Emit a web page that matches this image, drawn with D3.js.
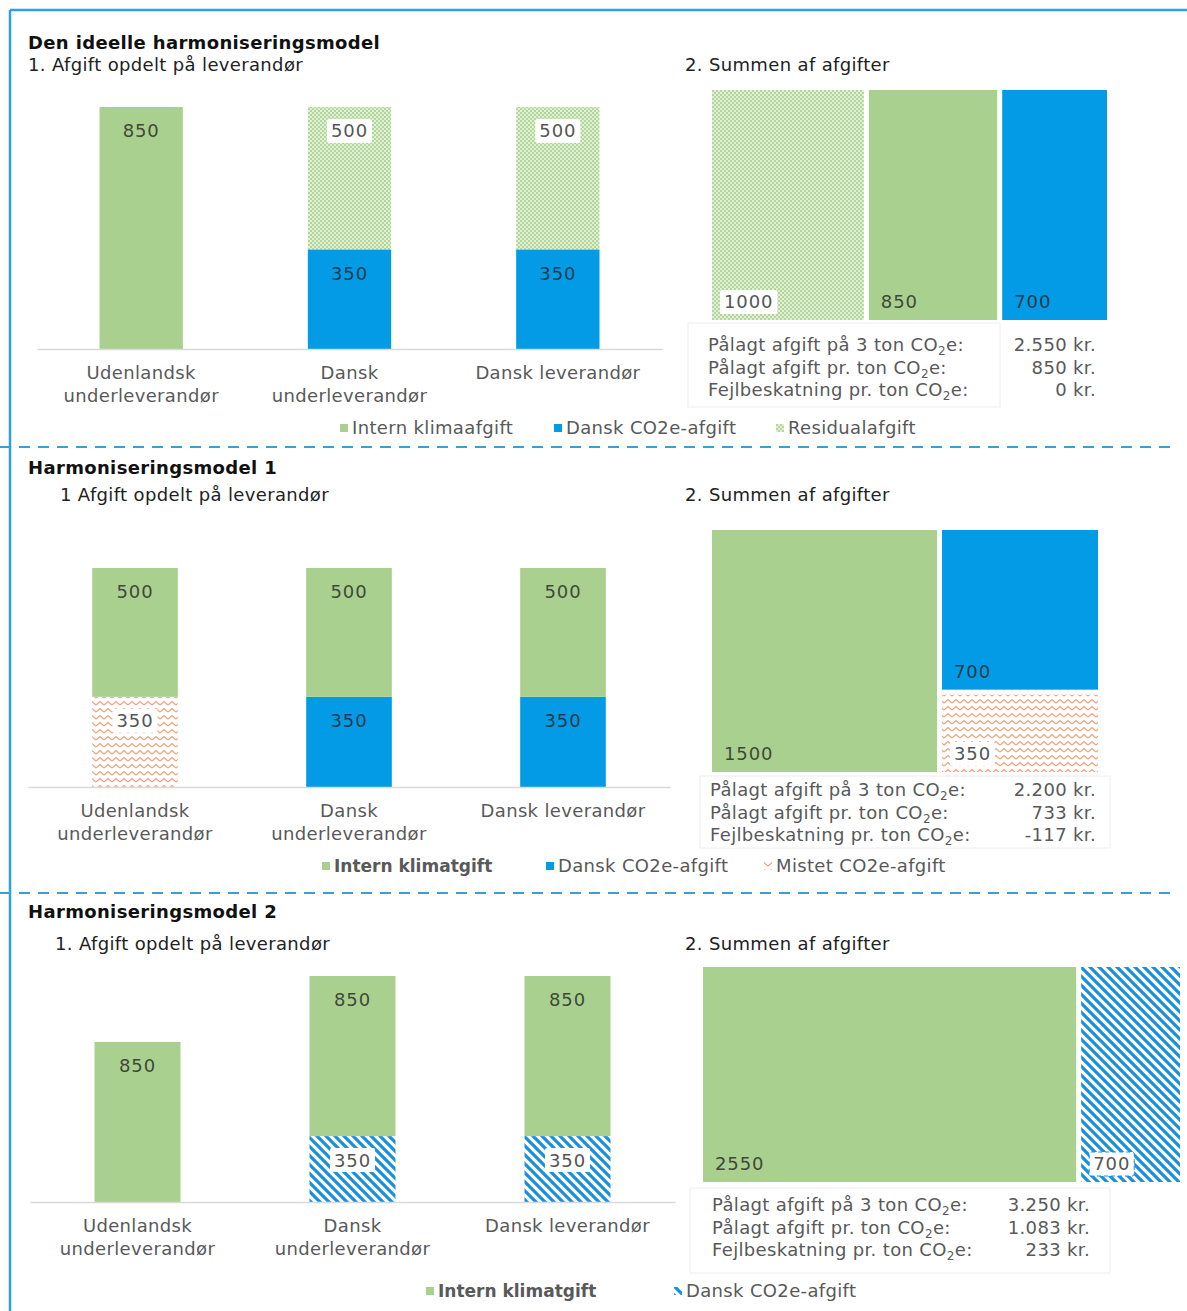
<!DOCTYPE html>
<html>
<head>
<meta charset="utf-8">
<script src="https://cdn.jsdelivr.net/npm/d3@7"></script>
<style>
  body { margin: 0; background: #fff; }
  svg text { font-family: "DejaVu Sans", Verdana, sans-serif; letter-spacing: 0.35px; }
</style>
</head>
<body>
<svg id="chart" width="1187" height="1311"></svg>
<script>
// categories (same for all three models)
const supplierKeys = ["udl", "dkUnder", "dkLev"];
const supplierLabels = [["Udenlandsk", "underleverandør"], ["Dansk", "underleverandør"], ["Dansk leverandør"]];

const statLabels = ["Pålagt afgift på 3 ton CO|2|e:", "Pålagt afgift pr. ton CO|2|e:", "Fejlbeskatning pr. ton CO|2|e:"];

// Den ideelle harmoniseringsmodel
const idealDansk = [0, 350, 350];
const idealResidual = [0, 500, 500];
const idealIntern = [850, 0, 0];
const idealSumKeys = ["residual", "intern", "dansk"];
const idealSumValues = [1000, 850, 700];
const idealStats = ["2.550 kr.", "850 kr.", "0 kr."];
const idealLegend = ["Intern klimaafgift", "Dansk CO2e-afgift", "Residualafgift"];

// Harmoniseringsmodel 1
const m1Mistet = [350, 0, 0];
const m1Dansk = [0, 350, 350];
const m1Intern = [500, 500, 500];
const m1SumKeys = ["intern", "dansk", "mistet"];
const m1SumValues = [1500, 700, 350];
const m1Stats = ["2.200 kr.", "733 kr.", "-117 kr."];
const m1Legend = ["Intern klimatgift", "Dansk CO2e-afgift", "Mistet CO2e-afgift"];

// Harmoniseringsmodel 2
const m2Dansk = [0, 350, 350];
const m2Intern = [850, 850, 850];
const m2SumKeys = ["intern", "stripe"];
const m2SumValues = [2550, 700];
const m2Stats = ["3.250 kr.", "1.083 kr.", "233 kr."];
const m2Legend = ["Intern klimatgift", "Dansk CO2e-afgift"];

const green = "#a9d08e", blue = "#039be5";
const textGrey = "#595959";
const FS = 18;

const svg = d3.select("#chart");
const defs = svg.append("defs");

// fill patterns
const pRes = defs.append("pattern").attr("id", "residual").attr("patternUnits", "userSpaceOnUse")
  .attr("width", 4).attr("height", 4);
pRes.append("rect").attr("width", 4).attr("height", 4).attr("fill", "#e2efd7");
pRes.append("rect").attr("width", 2).attr("height", 2).attr("fill", "#b3d69b");
pRes.append("rect").attr("x", 2).attr("y", 2).attr("width", 2).attr("height", 2).attr("fill", "#b3d69b");

const pZig = defs.append("pattern").attr("id", "mistet").attr("patternUnits", "userSpaceOnUse")
  .attr("width", 8).attr("height", 7);
pZig.append("rect").attr("width", 8).attr("height", 7).attr("fill", "#fff");
pZig.append("path").attr("d", "M0,5 L4,1.5 L8,5").attr("fill", "none")
  .attr("stroke", "#f2a27c").attr("stroke-width", 1.3);

const pStr = defs.append("pattern").attr("id", "stripe").attr("patternUnits", "userSpaceOnUse")
  .attr("width", 9).attr("height", 9);
pStr.append("rect").attr("width", 9).attr("height", 9).attr("fill", "#fff");
pStr.append("path").attr("d", "M-2,-2 L11,11 M-6.5,2.5 L2.5,11.5 M2.5,-6.5 L11.5,2.5").attr("stroke", "#1a8fdc")
  .attr("stroke-width", 3.2);

const fills = { intern: green, dansk: blue, residual: "url(#residual)", mistet: "url(#mistet)", stripe: "url(#stripe)" };
const boxed = { residual: true, mistet: true, stripe: true };

// frame
svg.append("line").attr("x1", 10).attr("x2", 1187).attr("y1", 10).attr("y2", 10)
  .attr("stroke", "#2f9fe6").attr("stroke-width", 2.5);
svg.append("line").attr("x1", 10).attr("x2", 10).attr("y1", 10).attr("y2", 1311)
  .attr("stroke", "#2f9fe6").attr("stroke-width", 2.5);

[447, 893].forEach(yy => {
  svg.append("line").attr("x1", 0).attr("x2", 1172).attr("y1", yy).attr("y2", yy)
    .attr("stroke", "#3a9fd2").attr("stroke-width", 2).attr("stroke-dasharray", "11,8");
});

function label(g, x, y, txt, key, anchor) {
  const t = g.append("text").attr("x", x).attr("y", y).attr("dy", "0.36em")
    .attr("text-anchor", anchor || "middle").attr("font-size", 18).style("letter-spacing", "0.9px")
    .attr("fill-opacity", boxed[key] ? 1 : 0.8)
    .attr("fill", boxed[key] ? "#555" : "#222").text(txt);
  if (boxed[key]) {
    const w = t.node().getComputedTextLength();
    const bx = anchor === "start" ? x - 4 : x - w / 2 - 4;
    const r = g.insert("rect", () => t.node()).attr("x", bx).attr("y", y - 12)
      .attr("width", w + 8).attr("height", 24).attr("fill", "#fff").attr("rx", 2);
    if (key === "stripe" && anchor === "start") r.attr("stroke", "#1a8fdc").attr("stroke-dasharray", "4,3");
  }
}

function drawBars(cfg) {
  const g = svg.append("g");
  const x = d3.scaleBand().domain(supplierKeys).range([cfg.x0, cfg.x1]).paddingInner(0.6).paddingOuter(0.3);
  const y = d3.scaleLinear().domain([0, cfg.max]).range([cfg.base, cfg.top]);
  const rows = supplierKeys.map((k, i) => {
    const r = { key: k };
    cfg.series.forEach(s => { r[s.key] = s.values[i]; });
    return r;
  });
  const layers = d3.stack().keys(cfg.series.map(s => s.key))(rows);
  layers.forEach(layer => {
    layer.forEach(d => {
      if (d[1] - d[0] <= 0) return;
      g.append("rect").attr("x", x(d.data.key)).attr("width", x.bandwidth())
        .attr("y", y(d[1])).attr("height", y(d[0]) - y(d[1])).attr("fill", fills[layer.key]);
    });
  });
  layers.forEach(layer => {
    layer.forEach(d => {
      if (d[1] - d[0] <= 0) return;
      label(g, x(d.data.key) + x.bandwidth() / 2, y(d[1]) + 24, d[1] - d[0], layer.key);
    });
  });
  const ax = g.append("g").attr("transform", `translate(0,${cfg.base})`)
    .call(d3.axisBottom(x).tickSize(0).tickSizeOuter(0).tickFormat(""));
  ax.select(".domain").attr("stroke", "#d9d9d9").attr("stroke-width", 1.5);
  supplierKeys.forEach((k, i) => {
    const t = g.append("text").attr("x", x(k) + x.bandwidth() / 2).attr("y", cfg.base + 30)
      .attr("text-anchor", "middle").attr("font-size", FS).attr("fill", textGrey);
    supplierLabels[i].forEach((ln, j) => {
      t.append("tspan").attr("x", x(k) + x.bandwidth() / 2).attr("dy", j ? 23 : 0).text(ln);
    });
  });
}

function drawTreemap(cfg) {
  const g = svg.append("g").attr("transform", `translate(${cfg.x},${cfg.y})`);
  const root = d3.hierarchy({ children: cfg.keys.map((k, i) => ({ key: k, value: cfg.values[i] })) })
    .sum(d => d.value || 0).sort((a, b) => b.value - a.value);
  d3.treemap().size([cfg.w, cfg.h]).paddingInner(5).tile(cfg.tile)(root);
  root.leaves().forEach(n => {
    g.append("rect").attr("x", n.x0).attr("y", n.y0).attr("width", n.x1 - n.x0)
      .attr("height", n.y1 - n.y0).attr("fill", fills[n.data.key]);
  });
  root.leaves().forEach(n => {
    label(g, n.x0 + 12, n.y1 - 18, n.data.value, n.data.key, "start");
  });
}

function drawStats(cfg) {
  const g = svg.append("g");
  g.append("rect").attr("x", cfg.bx).attr("y", cfg.by).attr("width", cfg.bw).attr("height", cfg.bh)
    .attr("fill", "none").attr("stroke", "#eeeeee");
  statLabels.forEach((s, i) => {
    const parts = s.split("|");
    const t = g.append("text").attr("x", cfg.x).attr("y", cfg.y + i * 22.5).attr("dy", "0.36em")
      .attr("font-size", FS).attr("fill", textGrey);
    t.append("tspan").text(parts[0]);
    t.append("tspan").attr("font-size", 12).attr("dy", 4).text(parts[1]);
    t.append("tspan").attr("dy", -4).text(parts[2]);
    g.append("text").attr("x", cfg.vx).attr("y", cfg.y + i * 22.5).attr("dy", "0.36em")
      .attr("text-anchor", "end").attr("font-size", FS).attr("fill", textGrey).text(cfg.values[i]);
  });
}

function drawLegend(items, keys, xs, y, boldFirst) {
  const g = svg.append("g");
  items.forEach((name, i) => {
    g.append("rect").attr("x", xs[i]).attr("y", y - 4).attr("width", 8).attr("height", 8)
      .attr("fill", fills[keys[i]]);
    const bold = boldFirst && i === 0;
    g.append("text").attr("x", xs[i] + 12).attr("y", y).attr("dy", "0.36em")
      .attr("font-size", bold ? 17 : FS).attr("fill", textGrey)
      .style("letter-spacing", bold ? "0px" : null)
      .attr("font-weight", bold ? "bold" : null).text(name);
  });
}

function titles(head, sub, subX, y) {
  svg.append("text").attr("x", 28).attr("y", y).attr("dy", "0.36em").attr("font-size", FS)
    .attr("font-weight", "bold").attr("fill", "#111").text(head);
  svg.append("text").attr("x", subX).attr("y", y + sub.y).attr("dy", "0.36em").attr("font-size", FS)
    .attr("fill", "#222").text(sub.text);
}

function sumTitle(y) {
  svg.append("text").attr("x", 685).attr("y", y).attr("dy", "0.36em").attr("font-size", FS)
    .attr("fill", "#222").text("2. Summen af afgifter");
}

// --- Den ideelle harmoniseringsmodel
titles("Den ideelle harmoniseringsmodel", { text: "1. Afgift opdelt på leverandør", y: 22 }, 28, 43);
sumTitle(65);
drawBars({ x0: 37, x1: 662, base: 349, top: 107, max: 850, series: [
  { key: "dansk", values: idealDansk }, { key: "residual", values: idealResidual }, { key: "intern", values: idealIntern }] });
drawTreemap({ x: 712, y: 90, w: 395, h: 230, keys: idealSumKeys, values: idealSumValues, tile: d3.treemapDice });
drawStats({ x: 708, y: 345, vx: 1096, values: idealStats, bx: 688, by: 323, bw: 312, bh: 84 });
drawLegend(idealLegend, ["intern", "dansk", "residual"], [340, 554, 776], 428);

// --- Harmoniseringsmodel 1
titles("Harmoniseringsmodel 1", { text: "1 Afgift opdelt på leverandør", y: 27 }, 60, 468);
sumTitle(495);
drawBars({ x0: 28, x1: 670, base: 787, top: 568, max: 850, series: [
  { key: "dansk", values: m1Dansk }, { key: "mistet", values: m1Mistet }, { key: "intern", values: m1Intern }] });
drawTreemap({ x: 712, y: 530, w: 386, h: 242, keys: m1SumKeys, values: m1SumValues, tile: d3.treemapSquarify });
drawStats({ x: 710, y: 790, vx: 1096, values: m1Stats, bx: 700, by: 776, bw: 410, bh: 72 });
drawLegend(m1Legend, ["intern", "dansk", "mistet"], [322, 546, 764], 866, true);

// --- Harmoniseringsmodel 2
titles("Harmoniseringsmodel 2", { text: "1. Afgift opdelt på leverandør", y: 32 }, 55, 912);
sumTitle(944);
drawBars({ x0: 30, x1: 675, base: 1202, top: 976, max: 1200, series: [
  { key: "stripe", values: m2Dansk }, { key: "intern", values: m2Intern }] });
drawTreemap({ x: 703, y: 967, w: 477, h: 215, keys: m2SumKeys, values: m2SumValues, tile: d3.treemapSquarify });
drawStats({ x: 712, y: 1205, vx: 1090, values: m2Stats, bx: 690, by: 1188, bw: 420, bh: 85 });
drawLegend(m2Legend, ["intern", "stripe"], [426, 674], 1291, true);
</script>
</body>
</html>
